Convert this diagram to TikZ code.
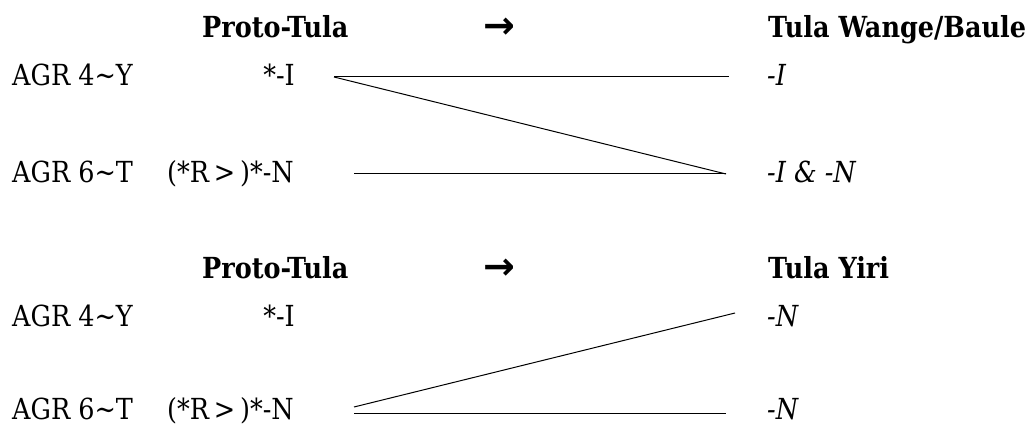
\documentclass[tikz,border=0pt]{standalone}
\usepackage{fontspec}
\setmainfont{DejaVu Serif}[FakeStretch=0.88]
\newfontfamily\arrowfont{DejaVu Sans}
\usetikzlibrary{positioning}

\begin{document}
\begin{tikzpicture}[
        x=1pt,y=-1pt,
    every node/.style={inner sep=0pt,anchor=base west,font=\fontsize{29}{34}\selectfont},
    head/.style={font=\fontsize{29}{34}\selectfont\bfseries},
    refl/.style={font=\fontsize{29}{34}\selectfont\itshape},
    dir/.style={font=\fontsize{38}{40}\arrowfont\bfseries},
    link/.style={line width=1pt}
]
    \useasboundingbox (0,0) rectangle (1029,427);

    % Wange/Baule
    \node [head] (ph) at (202,38) {Proto-Tula};
    \node [dir] (ah) at (483,39) {→};
    \node [head] (th) at (768,38) {Tula Wange/Baule};
    \node (ga) at (12,86) {AGR 4∼Y};
    \node [anchor=base east] (pa) at (295,86) {*-I};
    \node [refl] (ta) at (767,86) {-I};
    \node (gb) at (12,183) {AGR 6∼T};
    \node [anchor=base east] (pb) at (294,183) {(*R\,>\,)*-N};
    \node [refl] (tb) at (767,183) {-I \& -N};

    \coordinate (la) at (334,77);
    \coordinate (ra) at (729,77);
    \coordinate (lb) at (354,174);
    \coordinate (rb) at (726,174);

    \draw [link] (la) -- (ra);
    \draw [link] (la) -- (rb);
    \draw [link] (lb) -- (rb);

    % Yiri
    \node [head] (pc) at (202,279) {Proto-Tula};
    \node [dir] (ac) at (483,280) {→};
    \node [head] (tc) at (768,279) {Tula Yiri};
    \node (gc) at (12,327) {AGR 4∼Y};
    \node [anchor=base east] (pd) at (295,327) {*-I};
    \node [refl] (tc) at (767,327) {-N};
    \node (gd) at (12,420) {AGR 6∼T};
    \node [anchor=base east] (pe) at (294,420) {(*R\,>\,)*-N};
    \node [refl] (te) at (767,420) {-N};

    \coordinate (rc) at (735,313);
    \coordinate (ld) at (354,407);
    \coordinate (le) at (354,414);
    \coordinate (re) at (726,414);

    \draw [link] (ld) -- (rc);
    \draw [link] (le) -- (re);
\end{tikzpicture}
\end{document}
